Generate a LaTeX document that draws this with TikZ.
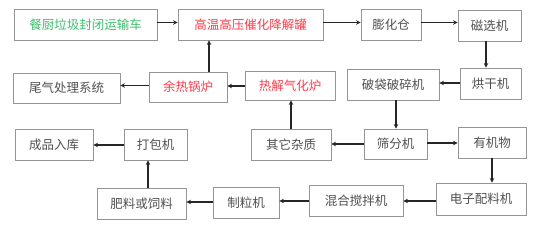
\documentclass[tikz,border=0pt]{standalone}
\usepackage{fontspec}
\newfontfamily\cjk{Noto Sans CJK SC}
\usetikzlibrary{arrows.meta}
\definecolor{txtgray}{HTML}{505050}
\definecolor{boxgray}{HTML}{959595}
\definecolor{txtgreen}{HTML}{3DBE6E}
\definecolor{txtred}{HTML}{FF3B4A}
\tikzset{
  box/.style={draw=boxgray, line width=0.9pt, inner sep=0pt, font=\cjk\fontsize{12.5}{14}\selectfont, text=txtgray},
  arr/.style={draw=black!85, line width=1.1pt, -{Stealth[length=4.5pt,width=4.5pt]}},
  redtxt/.style={text=txtred},
  greentxt/.style={text=txtgreen}
}
\begin{document}
\begin{tikzpicture}[x=1pt,y=-1pt]
\useasboundingbox[fill=white] (0,0) rectangle (554,228);
% row 1
\node[box,greentxt,minimum width=143pt,minimum height=31pt] (chu) at (85.5,24.5) {餐厨垃圾封闭运输车};
\node[box,redtxt,minimum width=145pt,minimum height=31pt] (gw) at (250.5,24.5) {高温高压催化降解罐};
\node[box,minimum width=60pt,minimum height=31pt] (ph) at (391,24.5) {膨化仓};
\node[box,minimum width=63pt,minimum height=31pt] (cx) at (489.5,25.5) {磁选机};
% row 2
\node[box,minimum width=107pt,minimum height=30pt] (wq) at (66.5,88) {尾气处理系统};
\node[box,redtxt,minimum width=78pt,minimum height=30pt] (yr) at (188,87) {余热锅炉};
\node[box,redtxt,minimum width=90pt,minimum height=29pt] (rj) at (290,85.5) {热解气化炉};
\node[box,minimum width=92pt,minimum height=31pt] (pd) at (393,84.5) {破袋破碎机};
\node[box,minimum width=61pt,minimum height=31pt] (hg) at (490.5,83.5) {烘干机};
% row 3
\node[box,minimum width=78pt,minimum height=31pt] (cp) at (54,144.5) {成品入库};
\node[box,minimum width=63pt,minimum height=31pt] (db) at (155.5,144.5) {打包机};
\node[box,minimum width=80pt,minimum height=31pt] (qt) at (291,144.5) {其它杂质};
\node[box,minimum width=63pt,minimum height=30pt] (sf) at (395.5,144) {筛分机};
\node[box,minimum width=68pt,minimum height=31pt] (yj) at (492,142.5) {有机物};
% row 4
\node[box,minimum width=89pt,minimum height=31pt] (fl) at (141.5,203.5) {肥料或饲料};
\node[box,minimum width=66pt,minimum height=31pt] (zl) at (246,202.5) {制粒机};
\node[box,minimum width=94pt,minimum height=31pt] (hh) at (356,200.5) {混合搅拌机};
\node[box,minimum width=90pt,minimum height=32pt] (dz) at (481,199) {电子配料机};
% arrows row 1
\draw[arr] (chu.east |- 0,22.5) -- (gw.west |- 0,22.5);
\draw[arr] (gw.east |- 0,22.5) -- (ph.west |- 0,22.5);
\draw[arr] (ph.east |- 0,22.5) -- (cx.west |- 0,22.5);
\draw[arr] (cx.south -| 486,0) -- (hg.north -| 486,0);
% row 2
\draw[arr] (hg.west |- 0,83) -- (pd.east |- 0,83);
\draw[arr] (pd.south -| 396,0) -- (sf.north -| 396,0);
\draw[arr] (rj.west |- 0,86) -- (yr.east |- 0,86);
\draw[arr] (yr.west |- 0,85.5) -- (wq.east |- 0,85.5);
\draw[arr] (yr.north -| 209,0) -- (gw.south -| 209,0);
% row 3
\draw[arr] (sf.west |- 0,144) -- (qt.east |- 0,144);
\draw[arr] (sf.east |- 0,143) -- (yj.west |- 0,143);
\draw[arr] (qt.north -| 291,0) -- (rj.south -| 291,0);
\draw[arr] (yj.south -| 492,0) -- (dz.north -| 492,0);
\draw[arr] (db.west |- 0,145) -- (cp.east |- 0,145);
% row 4
\draw[arr] (dz.west |- 0,201) -- (hh.east |- 0,201);
\draw[arr] (hh.west |- 0,201) -- (zl.east |- 0,201);
\draw[arr] (zl.west |- 0,202) -- (fl.east |- 0,202);
\draw[arr] (fl.north -| 148,0) -- (db.south -| 148,0);
\end{tikzpicture}
\end{document}
